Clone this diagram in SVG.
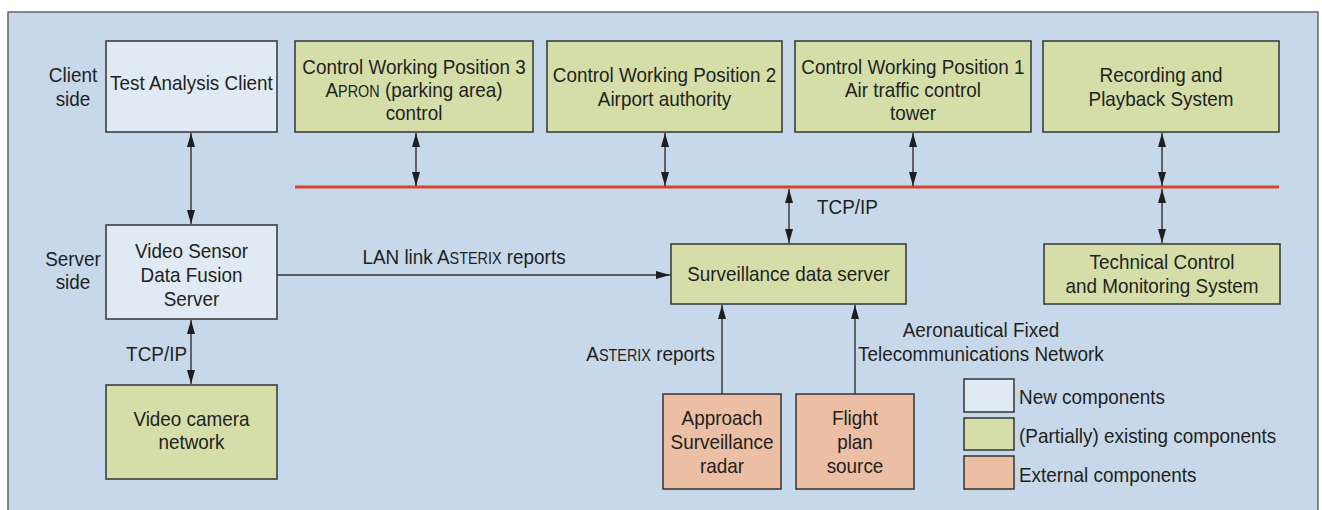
<svg xmlns="http://www.w3.org/2000/svg" width="1322" height="510" viewBox="0 0 1322 510">
<defs>
<marker id="ah" viewBox="0 0 14 8" refX="14" refY="4" markerWidth="14" markerHeight="8" markerUnits="userSpaceOnUse" orient="auto-start-reverse">
<path d="M0,0 L14,4 L0,8 z" fill="#1e1e1e"/>
</marker>
</defs>
<style>
text{font-family:"Liberation Sans",Arial,sans-serif;font-size:21px;fill:#231f20;text-anchor:middle}
.l{text-anchor:start}
.r{text-anchor:end}
.sc{font-size:16px}
.box{stroke:#333;stroke-width:1.5}
.new{fill:#e0eaf4}
.ex{fill:#d5dea9}
.ext{fill:#ecbea3}
.c{stroke:#333;stroke-width:1.4;fill:none}
</style>
<rect x="8" y="12" width="1310" height="510" fill="#c6d8ea" stroke="#666" stroke-width="1.5"/>

<g id="labels"><g transform="scale(0.9 1)">
<text x="81.11" y="82">Client</text>
<text x="81.11" y="106">side</text>
<text x="81.11" y="266">Server</text>
<text x="81.11" y="289">side</text>
</g></g>

<g id="test-client"><rect class="box new" x="106" y="41" width="171" height="91"/><g transform="scale(0.9 1)"><text x="212.78" y="90">Test Analysis Client</text></g></g>
<g id="cwp3"><rect class="box ex" x="295" y="41" width="238" height="91"/><g transform="scale(0.9 1)"><text x="460" y="74">Control Working Position 3</text><text x="460" y="97">A<tspan class="sc">PRON</tspan> (parking area)</text><text x="460" y="120">control</text></g></g>
<g id="cwp2"><rect class="box ex" x="547" y="41" width="235" height="91"/><g transform="scale(0.9 1)"><text x="738.33" y="82">Control Working Position 2</text><text x="738.33" y="106">Airport authority</text></g></g>
<g id="cwp1"><rect class="box ex" x="795" y="41" width="236" height="91"/><g transform="scale(0.9 1)"><text x="1014.44" y="74">Control Working Position 1</text><text x="1014.44" y="97">Air traffic control</text><text x="1014.44" y="120">tower</text></g></g>
<g id="recording"><rect class="box ex" x="1043" y="41" width="236" height="91"/><g transform="scale(0.9 1)"><text x="1290" y="82">Recording and</text><text x="1290" y="106">Playback System</text></g></g>

<g id="vsdf"><rect class="box new" x="106" y="225" width="171" height="94"/><g transform="scale(0.9 1)"><text x="212.78" y="258">Video Sensor</text><text x="212.78" y="282">Data Fusion</text><text x="212.78" y="306">Server</text></g></g>
<g id="camera"><rect class="box ex" x="106" y="385" width="171" height="94"/><g transform="scale(0.9 1)"><text x="212.78" y="426">Video camera</text><text x="212.78" y="449">network</text></g></g>
<g id="sds"><rect class="box ex" x="671" y="244" width="235" height="60"/><g transform="scale(0.9 1)"><text x="876.11" y="281">Surveillance data server</text></g></g>
<g id="tcms"><rect class="box ex" x="1044" y="244" width="236" height="60"/><g transform="scale(0.9 1)"><text x="1291.11" y="269">Technical Control</text><text x="1291.11" y="293">and Monitoring System</text></g></g>
<g id="radar"><rect class="box ext" x="663" y="394" width="118" height="95"/><g transform="scale(0.9 1)"><text x="802.22" y="425">Approach</text><text x="802.22" y="449">Surveillance</text><text x="802.22" y="473">radar</text></g></g>
<g id="flightplan"><rect class="box ext" x="796" y="394" width="118" height="95"/><g transform="scale(0.9 1)"><text x="950" y="425">Flight</text><text x="950" y="449">plan</text><text x="950" y="473">source</text></g></g>

<g id="legend">
<rect class="box new" x="964" y="379" width="50" height="33"/>
<rect class="box ex" x="964" y="418" width="50" height="32"/>
<rect class="box ext" x="964" y="456" width="50" height="33"/>
<g transform="scale(0.9 1)">
<text class="l" x="1132.22" y="404">New components</text>
<text class="l" x="1132.22" y="443">(Partially) existing components</text>
<text class="l" x="1132.22" y="482">External components</text>
</g>
</g>

<g id="connectors">
<line x1="295" y1="187" x2="1279" y2="187" stroke="#d2462a" stroke-width="3"/>
<line class="c" x1="416" y1="133" x2="416" y2="186" marker-start="url(#ah)" marker-end="url(#ah)"/>
<line class="c" x1="665" y1="133" x2="665" y2="186" marker-start="url(#ah)" marker-end="url(#ah)"/>
<line class="c" x1="913" y1="133" x2="913" y2="186" marker-start="url(#ah)" marker-end="url(#ah)"/>
<line class="c" x1="1162" y1="133" x2="1162" y2="186" marker-start="url(#ah)" marker-end="url(#ah)"/>
<line class="c" x1="1162" y1="189" x2="1162" y2="243" marker-start="url(#ah)" marker-end="url(#ah)"/>
<line class="c" x1="789" y1="189" x2="789" y2="243" marker-start="url(#ah)" marker-end="url(#ah)"/>
<line class="c" x1="191" y1="133" x2="191" y2="224" marker-start="url(#ah)" marker-end="url(#ah)"/>
<line class="c" x1="191" y1="320" x2="191" y2="384" marker-start="url(#ah)" marker-end="url(#ah)"/>
<line class="c" x1="277" y1="275" x2="670" y2="275" stroke="#555" stroke-width="2" marker-end="url(#ah)"/>
<line class="c" x1="722" y1="394" x2="722" y2="305" marker-end="url(#ah)"/>
<line class="c" x1="855" y1="394" x2="855" y2="305" marker-end="url(#ah)"/>
<g transform="scale(0.9 1)">
<text x="515.56" y="264">LAN link A<tspan class="sc">STERIX</tspan> reports</text>
<text class="r" x="207.78" y="361">TCP/IP</text>
<text class="l" x="907.78" y="214">TCP/IP</text>
<text class="r" x="794.44" y="361">A<tspan class="sc">STERIX</tspan>  reports</text>
<text x="1090" y="337">Aeronautical Fixed</text>
<text class="l" x="953.33" y="361">Telecommunications Network</text>
</g>
</g>
</svg>
